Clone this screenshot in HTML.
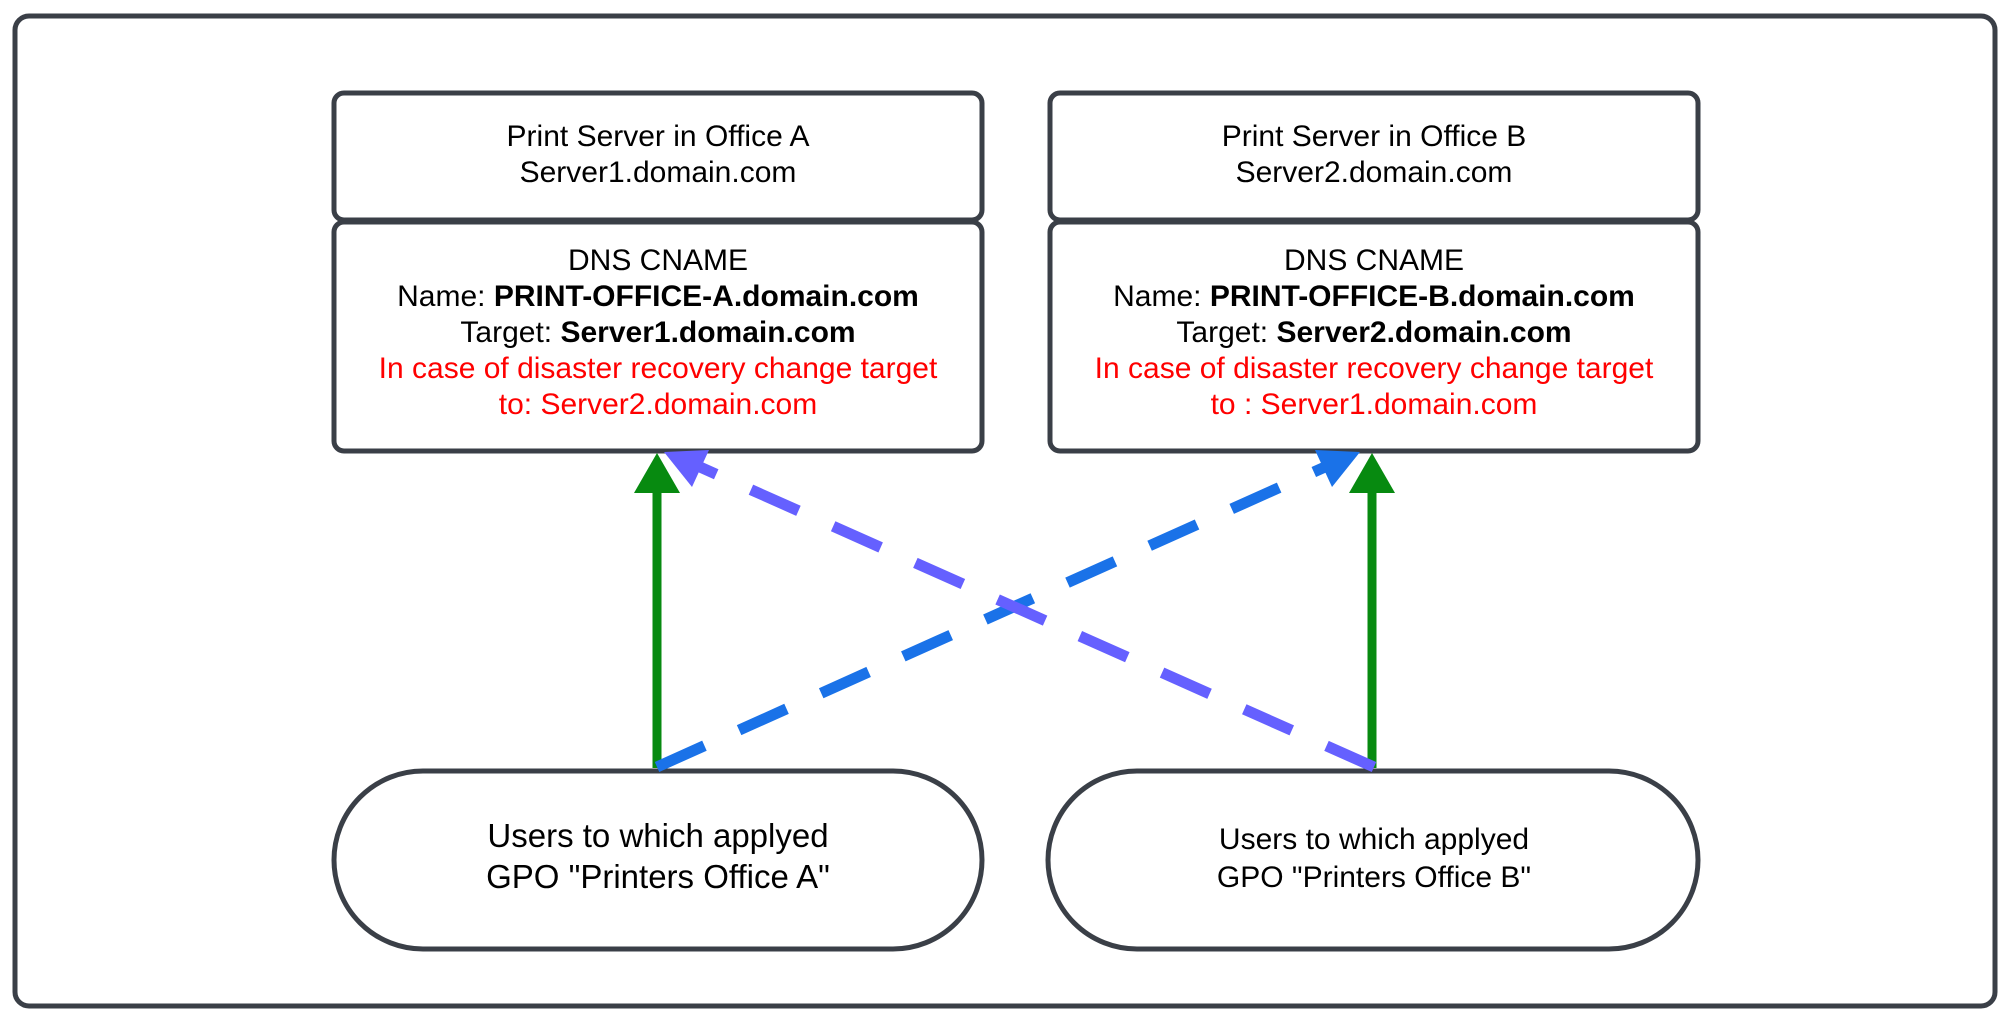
<!DOCTYPE html>
<html><head><meta charset="utf-8"><style>
html,body{margin:0;padding:0;background:#fff;}
svg{display:block;}
text{font-family:"Liberation Sans",Arial,sans-serif;}
</style></head><body>
<svg width="2010" height="1022" viewBox="0 0 2010 1022" xmlns="http://www.w3.org/2000/svg">
<rect x="15" y="16" width="1980" height="990" rx="14" fill="#fff" stroke="#3a3f47" stroke-width="5"/>
<rect x="334" y="93" width="648" height="127" rx="10" fill="#fff" stroke="#3a3f47" stroke-width="5"/>
<rect x="334" y="222" width="648" height="229" rx="10" fill="#fff" stroke="#3a3f47" stroke-width="5"/>
<rect x="1050" y="93" width="648" height="127" rx="10" fill="#fff" stroke="#3a3f47" stroke-width="5"/>
<rect x="1050" y="222" width="648" height="229" rx="10" fill="#fff" stroke="#3a3f47" stroke-width="5"/>
<g font-size="30" text-anchor="middle" fill="#000">
<text x="658" y="146">Print Server in Office A</text>
<text x="658" y="182">Server1.domain.com</text>
<text x="658" y="270">DNS CNAME</text>
<text x="658" y="306">Name: <tspan font-weight="bold">PRINT-OFFICE-A.domain.com</tspan></text>
<text x="658" y="342">Target: <tspan font-weight="bold">Server1.domain.com</tspan></text>
<text x="658" y="378" fill="#ff0000">In case of disaster recovery change target</text>
<text x="658" y="414" fill="#ff0000">to: Server2.domain.com</text>
<text x="1374" y="146">Print Server in Office B</text>
<text x="1374" y="182">Server2.domain.com</text>
<text x="1374" y="270">DNS CNAME</text>
<text x="1374" y="306">Name: <tspan font-weight="bold">PRINT-OFFICE-B.domain.com</tspan></text>
<text x="1374" y="342">Target: <tspan font-weight="bold">Server2.domain.com</tspan></text>
<text x="1374" y="378" fill="#ff0000">In case of disaster recovery change target</text>
<text x="1374" y="414" fill="#ff0000">to : Server1.domain.com</text>
</g>
<rect x="334" y="771" width="648" height="178" rx="89" fill="#fff" stroke="#3a3f47" stroke-width="5"/>
<rect x="1048" y="771" width="650" height="178" rx="89" fill="#fff" stroke="#3a3f47" stroke-width="5"/>
<g text-anchor="middle" fill="#000">
<text x="658" y="847" font-size="33">Users to which applyed</text>
<text x="658" y="888" font-size="33">GPO "Printers Office A"</text>
<text x="1374" y="849" font-size="30">Users to which applyed</text>
<text x="1374" y="887" font-size="30">GPO "Printers Office B"</text>
</g>
<line x1="657" y1="768" x2="657" y2="490" stroke="#078a10" stroke-width="9"/>
<polygon points="657,453 634,493 680,493" fill="#078a10"/>
<line x1="1372" y1="768" x2="1372" y2="490" stroke="#078a10" stroke-width="9"/>
<polygon points="1372,453 1349,493 1395,493" fill="#078a10"/>
<line x1="657" y1="767" x2="1325" y2="467" stroke="#1a72e8" stroke-width="11" stroke-dasharray="52 38"/>
<polygon points="1360,452 1315,450 1332,487" fill="#1a72e8"/>
<line x1="1374" y1="767" x2="700" y2="467" stroke="#6560ff" stroke-width="11" stroke-dasharray="52 38"/>
<polygon points="664,452 709,450 692,487" fill="#6560ff"/>
</svg>
</body></html>
